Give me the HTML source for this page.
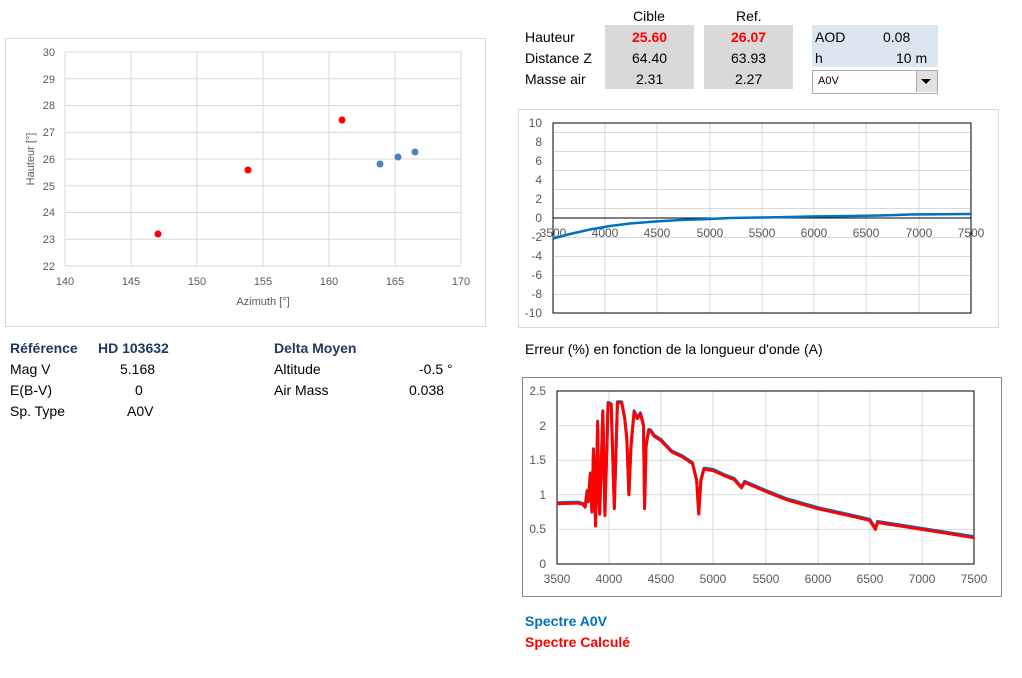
<!DOCTYPE html>
<html><head><meta charset="utf-8"><style>
body{margin:0;width:1022px;height:678px;background:#fff;font-family:"Liberation Sans",sans-serif;position:relative;overflow:hidden;font-size:14px;color:#000}
.a{position:absolute;white-space:nowrap}
.g{position:absolute;background:#d9d9d9}
.b{position:absolute;background:#dce6f1}
.bold{font-weight:bold}
.nv{color:#1f3864;font-weight:bold}
</style></head><body>
<div class="g" style="left:605px;top:25px;width:89px;height:64px"></div>
<div class="g" style="left:704px;top:25px;width:89px;height:64px"></div>
<div class="b" style="left:812px;top:25px;width:126px;height:42px"></div>
<div class="a" style="left:633px;top:8px">Cible</div>
<div class="a" style="left:736px;top:8px">Ref.</div>
<div class="a" style="left:525px;top:29px">Hauteur</div>
<div class="a" style="left:525px;top:50px">Distance Z</div>
<div class="a" style="left:525px;top:71px">Masse air</div>
<div class="a bold" style="left:632px;top:29px;color:#f00">25.60</div>
<div class="a bold" style="left:731px;top:29px;color:#f00">26.07</div>
<div class="a" style="left:632px;top:50px">64.40</div>
<div class="a" style="left:731px;top:50px">63.93</div>
<div class="a" style="left:636px;top:71px">2.31</div>
<div class="a" style="left:735px;top:71px">2.27</div>
<div class="a" style="left:815px;top:29px">AOD</div>
<div class="a" style="left:883px;top:29px">0.08</div>
<div class="a" style="left:815px;top:50px">h</div>
<div class="a" style="left:896px;top:50px">10 m</div>
<div style="position:absolute;left:812px;top:70px;width:124px;height:22px;border:1px solid #aaa;background:#fff"></div>
<div class="a" style="left:818px;top:75px;font-size:11px">A0V</div>
<div style="position:absolute;left:916px;top:71px;width:20px;height:21px;background:#e0e0e0;border-left:1px solid #aaa"></div>
<div style="position:absolute;left:921px;top:79px;width:0;height:0;border-left:5px solid transparent;border-right:5px solid transparent;border-top:5px solid #000"></div>
<div class="a nv" style="left:10px;top:340px">Référence</div>
<div class="a nv" style="left:98px;top:340px">HD 103632</div>
<div class="a" style="left:10px;top:361px">Mag V</div><div class="a" style="left:120px;top:361px">5.168</div>
<div class="a" style="left:10px;top:382px">E(B-V)</div><div class="a" style="left:135px;top:382px">0</div>
<div class="a" style="left:10px;top:403px">Sp. Type</div><div class="a" style="left:127px;top:403px">A0V</div>
<div class="a nv" style="left:274px;top:340px">Delta Moyen</div>
<div class="a" style="left:274px;top:361px">Altitude</div><div class="a" style="left:419px;top:361px">-0.5 °</div>
<div class="a" style="left:274px;top:382px">Air Mass</div><div class="a" style="left:409px;top:382px">0.038</div>
<div class="a" style="left:525px;top:341px">Erreur (%) en fonction de la longueur d'onde (A)</div>
<div class="a" style="left:525px;top:613px;color:#0070c0;font-weight:bold">Spectre A0V</div>
<div class="a" style="left:525px;top:634px;color:#f00;font-weight:bold">Spectre Calculé</div>
<svg width="1022" height="678" style="position:absolute;left:0;top:0" font-family="Liberation Sans, sans-serif" font-size="12" fill="#595959">
<rect x="5.5" y="38.5" width="480" height="288" fill="none" stroke="#d9d9d9"/>
<g stroke="#d9d9d9">
<line x1="65" y1="52" x2="461" y2="52"/><line x1="65" y1="78.75" x2="461" y2="78.75"/><line x1="65" y1="105.5" x2="461" y2="105.5"/><line x1="65" y1="132.25" x2="461" y2="132.25"/><line x1="65" y1="159" x2="461" y2="159"/><line x1="65" y1="185.75" x2="461" y2="185.75"/><line x1="65" y1="212.5" x2="461" y2="212.5"/><line x1="65" y1="239.25" x2="461" y2="239.25"/><line x1="65" y1="266" x2="461" y2="266"/>
<line x1="65" y1="52" x2="65" y2="266"/><line x1="131" y1="52" x2="131" y2="266"/><line x1="197" y1="52" x2="197" y2="266"/><line x1="263" y1="52" x2="263" y2="266"/><line x1="329" y1="52" x2="329" y2="266"/><line x1="395" y1="52" x2="395" y2="266"/><line x1="461" y1="52" x2="461" y2="266"/>
</g>
<g text-anchor="end" font-size="11"><text x="55" y="56">30</text><text x="55" y="83">29</text><text x="55" y="109">28</text><text x="55" y="136">27</text><text x="55" y="163">26</text><text x="55" y="190">25</text><text x="55" y="216">24</text><text x="55" y="243">23</text><text x="55" y="270">22</text></g>
<g text-anchor="middle" font-size="11"><text x="65" y="285">140</text><text x="131" y="285">145</text><text x="197" y="285">150</text><text x="263" y="285">155</text><text x="329" y="285">160</text><text x="395" y="285">165</text><text x="461" y="285">170</text>
<text x="263" y="305">Azimuth [°]</text><text transform="translate(34,159) rotate(-90)">Hauteur [°]</text></g>
<g fill="#f00"><circle cx="158" cy="234" r="3.5"/><circle cx="248" cy="170" r="3.5"/><circle cx="342" cy="120" r="3.5"/></g>
<g fill="#4f81bd"><circle cx="380" cy="164" r="3.5"/><circle cx="398" cy="157" r="3.5"/><circle cx="415" cy="152" r="3.5"/></g>
<rect x="518.5" y="109.5" width="480" height="218" fill="none" stroke="#d9d9d9"/>
<g stroke="#d9d9d9">
<line x1="553" y1="132.5" x2="971" y2="132.5"/><line x1="553" y1="151.5" x2="971" y2="151.5"/><line x1="553" y1="170.5" x2="971" y2="170.5"/><line x1="553" y1="189.5" x2="971" y2="189.5"/><line x1="553" y1="208.5" x2="971" y2="208.5"/><line x1="553" y1="237.5" x2="971" y2="237.5"/><line x1="553" y1="256.5" x2="971" y2="256.5"/><line x1="553" y1="275.5" x2="971" y2="275.5"/><line x1="553" y1="294.5" x2="971" y2="294.5"/>
<line x1="605" y1="123" x2="605" y2="313"/><line x1="657" y1="123" x2="657" y2="313"/><line x1="710" y1="123" x2="710" y2="313"/><line x1="762" y1="123" x2="762" y2="313"/><line x1="814" y1="123" x2="814" y2="313"/><line x1="866" y1="123" x2="866" y2="313"/><line x1="919" y1="123" x2="919" y2="313"/>
</g>
<rect x="553" y="123" width="418" height="190" fill="none" stroke="#000"/>
<line x1="553" y1="218" x2="971" y2="218" stroke="#000"/>
<g text-anchor="end"><text x="542" y="127">10</text><text x="542" y="146">8</text><text x="542" y="165">6</text><text x="542" y="184">4</text><text x="542" y="203">2</text><text x="542" y="222">0</text><text x="542" y="241">-2</text><text x="542" y="260">-4</text><text x="542" y="279">-6</text><text x="542" y="298">-8</text><text x="542" y="317">-10</text></g>
<g text-anchor="middle"><text x="553" y="237">3500</text><text x="605" y="237">4000</text><text x="657" y="237">4500</text><text x="710" y="237">5000</text><text x="762" y="237">5500</text><text x="814" y="237">6000</text><text x="866" y="237">6500</text><text x="919" y="237">7000</text><text x="971" y="237">7500</text></g>
<polyline fill="none" stroke="#0070c0" stroke-width="2.5" points="553,238.5 570,234 590,229.5 610,226 630,223.5 655,221.5 680,220 710,219 730,218 760,217.5 790,217 810,216.5 850,216 880,215.5 910,214.5 971,214"/>
<rect x="522.5" y="377.5" width="479" height="219" fill="none" stroke="#888"/>
<g stroke="#d9d9d9">
<line x1="557" y1="391" x2="974" y2="391"/><line x1="557" y1="425.6" x2="974" y2="425.6"/><line x1="557" y1="460.2" x2="974" y2="460.2"/><line x1="557" y1="494.8" x2="974" y2="494.8"/><line x1="557" y1="529.4" x2="974" y2="529.4"/>
<line x1="609" y1="391" x2="609" y2="564"/><line x1="661" y1="391" x2="661" y2="564"/><line x1="713" y1="391" x2="713" y2="564"/><line x1="766" y1="391" x2="766" y2="564"/><line x1="818" y1="391" x2="818" y2="564"/><line x1="870" y1="391" x2="870" y2="564"/><line x1="922" y1="391" x2="922" y2="564"/>
</g>
<rect x="557" y="391" width="417" height="173" fill="none" stroke="#000"/>
<g text-anchor="end"><text x="546" y="395">2.5</text><text x="546" y="430">2</text><text x="546" y="464">1.5</text><text x="546" y="499">1</text><text x="546" y="533">0.5</text><text x="546" y="568">0</text></g>
<g text-anchor="middle"><text x="557" y="583">3500</text><text x="609" y="583">4000</text><text x="661" y="583">4500</text><text x="713" y="583">5000</text><text x="766" y="583">5500</text><text x="818" y="583">6000</text><text x="870" y="583">6500</text><text x="922" y="583">7000</text><text x="974" y="583">7500</text></g>
<g transform="translate(192.1,564) scale(0.10425,-69.2)" fill="none" stroke-width="3" stroke-linejoin="round">
<polyline vector-effect="non-scaling-stroke" stroke="#0070c0" transform="translate(0,0.015)" points="3500,.87 3700,.88 3750,.86 3770,.82 3790,1.05 3800,.9 3820,1.3 3835,.75 3850,1.65 3870,.55 3890,2.05 3900,1.0 3910,.72 3940,2.2 3960,.7 3990,2.32 4020,2.3 4050,.8 4080,2.33 4120,2.33 4150,2.1 4170,1.8 4190,1.0 4210,1.7 4240,2.2 4270,2.1 4300,2.17 4330,2.0 4340,.8 4355,1.7 4380,1.93 4400,1.92 4430,1.85 4500,1.78 4600,1.62 4700,1.55 4800,1.45 4840,1.2 4860,.72 4880,1.2 4910,1.37 5000,1.35 5100,1.28 5200,1.22 5270,1.1 5300,1.18 5500,1.05 5700,.93 6000,.8 6300,.7 6500,.63 6555,.5 6575,.6 7000,.5 7500,.38"/>
<polyline vector-effect="non-scaling-stroke" stroke="#f00" points="3500,.87 3700,.88 3750,.86 3770,.82 3790,1.05 3800,.9 3820,1.3 3835,.75 3850,1.65 3870,.55 3890,2.05 3900,1.0 3910,.72 3940,2.2 3960,.7 3990,2.32 4020,2.3 4050,.8 4080,2.33 4120,2.33 4150,2.1 4170,1.8 4190,1.0 4210,1.7 4240,2.2 4270,2.1 4300,2.17 4330,2.0 4340,.8 4355,1.7 4380,1.93 4400,1.92 4430,1.85 4500,1.78 4600,1.62 4700,1.55 4800,1.45 4840,1.2 4860,.72 4880,1.2 4910,1.37 5000,1.35 5100,1.28 5200,1.22 5270,1.1 5300,1.18 5500,1.05 5700,.93 6000,.8 6300,.7 6500,.63 6555,.5 6575,.6 7000,.5 7500,.38"/>
</g>
</svg>
</body></html>
